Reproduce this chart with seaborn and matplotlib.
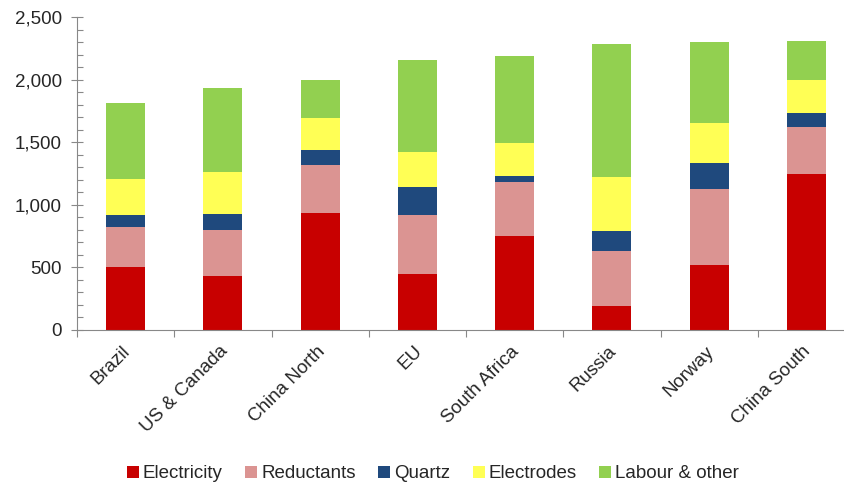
import matplotlib
matplotlib.use("Agg")
import matplotlib.pyplot as plt
from matplotlib.patches import Patch
from matplotlib.ticker import FuncFormatter, MultipleLocator, FixedLocator
import matplotlib.transforms as mtransforms
import seaborn as sns
import numpy as np
import pandas as pd

categories = ["Brazil", "US & Canada", "China North", "EU", "South Africa",
              "Russia", "Norway", "China South"]
electricity = [505, 430, 935, 450, 750, 190, 520, 1245]
reductants = [315, 370, 380, 470, 430, 440, 605, 375]
quartz = [100, 130, 120, 225, 50, 160, 210, 115]
electrodes = [285, 335, 260, 275, 260, 430, 320, 265]
labour_other = [610, 665, 305, 740, 700, 1065, 645, 305]

series_names = ["Electricity", "Reductants", "Quartz", "Electrodes", "Labour & other"]
colors = ["#C80000", "#DB9492", "#1F497D", "#FFFF55", "#92D050"]

sns.set_style("white")
plt.rcParams["font.family"] = ["Liberation Sans", "DejaVu Sans"]

series = [electricity, reductants, quartz, electrodes, labour_other]
cum = np.cumsum(np.array(series, dtype=float), axis=0)

fig = plt.figure(figsize=(8.44, 4.84), dpi=100)
ax = fig.add_axes([77 / 844, (484 - 330) / 484, 778 / 844, 313 / 484])

# draw from top layer (full total) down so lower layers sit on top
for i in range(len(series) - 1, -1, -1):
    df = pd.DataFrame({"region": categories, "value": cum[i]})
    sns.barplot(data=df, x="region", y="value", color=colors[i], width=0.4,
                saturation=1, ax=ax, linewidth=0, order=categories)

ax.set_xlim(-0.5, len(categories) - 0.5)
ax.set_ylim(0, 2500)
ax.set_xlabel("")
ax.set_ylabel("")

ax.yaxis.set_major_locator(MultipleLocator(500))
ax.yaxis.set_minor_locator(MultipleLocator(100))
ax.yaxis.set_major_formatter(FuncFormatter(lambda v, p: f"{int(v):,}"))

ax.xaxis.set_minor_locator(FixedLocator(np.arange(-0.5, len(categories), 1.0)))
ax.tick_params(axis="x", which="major", length=0, pad=2)
ax.tick_params(axis="x", which="minor", length=5, width=0.8, color="#888888",
               direction="out", bottom=True)
ax.tick_params(axis="y", which="major", length=8, width=0.8, color="#888888",
               direction="inout", pad=7, labelsize=13.5, left=True)
ax.tick_params(axis="y", which="minor", length=4, width=0.8, color="#888888",
               direction="in", left=True)

offset = mtransforms.ScaledTranslation(-4 / 100, -10 / 100, fig.dpi_scale_trans)
for lab in ax.get_xticklabels():
    lab.set_rotation(45)
    lab.set_ha("right")
    lab.set_va("top")
    lab.set_rotation_mode("anchor")
    lab.set_fontsize(13.5)
    lab.set_transform(lab.get_transform() + offset)

for s in ["top", "right"]:
    ax.spines[s].set_visible(False)
for s in ["left", "bottom"]:
    ax.spines[s].set_color("#888888")
    ax.spines[s].set_linewidth(0.8)

handles = [Patch(facecolor=c, edgecolor="none", label=n) for c, n in zip(colors, series_names)]
fig.legend(handles=handles, loc="center", bbox_to_anchor=(433 / 844, 1 - 474 / 484),
           ncol=5, frameon=False, fontsize=13.5, handlelength=0.65, handleheight=0.65,
           handletextpad=0.2, columnspacing=1.2, borderaxespad=0)

fig.savefig("out.png", dpi=100, facecolor="white")
